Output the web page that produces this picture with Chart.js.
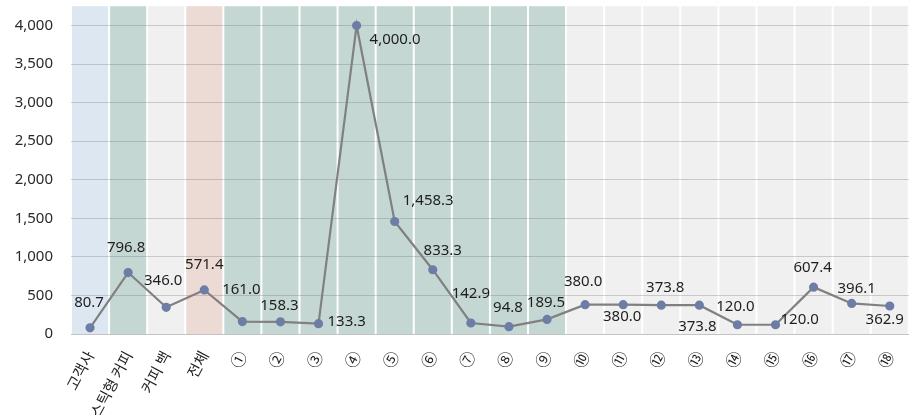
<!DOCTYPE html>
<html>
<head>
<meta charset="utf-8">
<script src="https://cdn.jsdelivr.net/npm/chart.js@4"></script>
<style>
    html, body { margin: 0; padding: 0; background: #fff; }
    #wrap { width: 915px; height: 415px; }
</style>
</head>
<body>
<div id="wrap"><canvas id="lineChart" width="915" height="415"></canvas></div>
<script>
const categories = ["고객사", "스틱형 커피", "커피 백", "전체",
    "①", "②", "③", "④", "⑤", "⑥", "⑦", "⑧", "⑨",
    "⑩", "⑪", "⑫", "⑬", "⑭", "⑮", "⑯", "⑰", "⑱"];
const values = [80.7, 796.8, 346.0, 571.4,
    161.0, 158.3, 133.3, 4000.0, 1458.3, 833.3, 142.9, 94.8, 189.5,
    380.0, 380.0, 373.8, 373.8, 120.0, 120.0, 607.4, 396.1, 362.9];
const yTicks = [0, 500, 1000, 1500, 2000, 2500, 3000, 3500, 4000];
const yMax = 4250;

// column shading behind each category
const bandColors = ["#dde7f1", "#c4d7d2", "#f0f0f0", "#ecdad4",
    "#c4d7d2", "#c4d7d2", "#c4d7d2", "#c4d7d2", "#c4d7d2", "#c4d7d2", "#c4d7d2", "#c4d7d2", "#c4d7d2",
    "#f0f0f0", "#f0f0f0", "#f0f0f0", "#f0f0f0", "#f0f0f0", "#f0f0f0", "#f0f0f0", "#f0f0f0", "#f0f0f0"];

// value label offset from its point: [dx, dy, align]
const labelOffsets = [
    [-1, -25, "center"], [-2, -25, "center"], [-3, -27, "center"], [0, -25, "center"],
    [-1, -32, "center"], [-1, -16, "center"], [9, -2, "left"], [13, 14, "left"],
    [8, -21, "left"], [10, -19, "center"], [0, -29, "center"], [-1, -19, "center"],
    [-1, -17, "center"], [-2, -23, "center"], [-1, 12, "center"], [4, -17, "center"],
    [-2, 22, "center"], [-2, -18, "center"], [5, -5, "left"], [-1, -19, "center"],
    [5, -15, "center"], [-5, 14, "center"]
];

const fmt = v => v.toLocaleString("en-US", { minimumFractionDigits: 1, maximumFractionDigits: 1 });

const bandPlugin = {
    id: "bands",
    beforeDraw(chart) {
        const ctx = chart.ctx;
        const x = chart.scales.x;
        const y = chart.scales.y;
        const step = x.getPixelForValue(1) - x.getPixelForValue(0);
        const top = y.getPixelForValue(yMax);
        const bottom = y.getPixelForValue(0);
        ctx.save();
        bandColors.forEach((c, i) => {
            const cx = x.getPixelForValue(i);
            ctx.fillStyle = c;
            ctx.fillRect(cx - step / 2 + 1, top, step - 2, bottom - top);
        });
        ctx.restore();
    }
};

const valueLabels = {
    id: "valueLabels",
    afterDatasetsDraw(chart) {
        const ctx = chart.ctx;
        const meta = chart.getDatasetMeta(0);
        ctx.save();
        ctx.font = "15px 'Noto Sans', 'DejaVu Sans', sans-serif";
        ctx.fillStyle = "#1e1e1e";
        ctx.textBaseline = "middle";
        meta.data.forEach((pt, i) => {
            const off = labelOffsets[i];
            ctx.textAlign = off[2];
            ctx.fillText(fmt(values[i]), pt.x + off[0], pt.y + off[1]);
        });
        ctx.restore();
    }
};

new Chart(document.getElementById("lineChart").getContext("2d"), {
    type: "line",
    data: {
        labels: categories,
        datasets: [{
            data: values,
            borderColor: "#808080",
            borderWidth: 2.2,
            pointBackgroundColor: "#6d7da6",
            pointBorderColor: "#6d7da6",
            pointRadius: 3.5,
            tension: 0
        }]
    },
    options: {
        responsive: false,
        animation: false,
        layout: { padding: { top: 6, right: 6, left: 0, bottom: 0 } },
        plugins: {
            legend: { display: false },
            tooltip: { enabled: false }
        },
        scales: {
            x: {
                offset: true,
                grid: { display: false },
                border: { display: true, color: "#c4c4c4", width: 1 },
                afterFit(scale) {
                    scale.height = 81;
                    scale.paddingLeft = 0;
                    scale.paddingRight = 0;
                },
                ticks: {
                    autoSkip: false,
                    minRotation: 62,
                    maxRotation: 62,
                    padding: 6,
                    color: "#1e1e1e",
                    font: ctx => ({
                        family: "'Noto Sans CJK KR', 'Noto Sans', sans-serif",
                        size: ctx.index < 4 ? 15 : 16
                    })
                }
            },
            y: {
                min: 0,
                max: yMax,
                afterFit(scale) {
                    scale.width = 71;
                    scale.paddingTop = 0;
                    scale.paddingBottom = 0;
                },
                afterBuildTicks(scale) {
                    scale.ticks = yTicks.map(v => ({ value: v }));
                },
                grid: { color: "rgba(110,110,110,0.3)", lineWidth: 1, drawTicks: false },
                border: { display: false },
                ticks: {
                    padding: 18,
                    color: "#2a2a2a",
                    font: { family: "'Noto Sans', sans-serif", size: 15 },
                    callback: v => v.toLocaleString("en-US")
                }
            }
        }
    },
    plugins: [bandPlugin, valueLabels]
});
</script>
</body>
</html>
